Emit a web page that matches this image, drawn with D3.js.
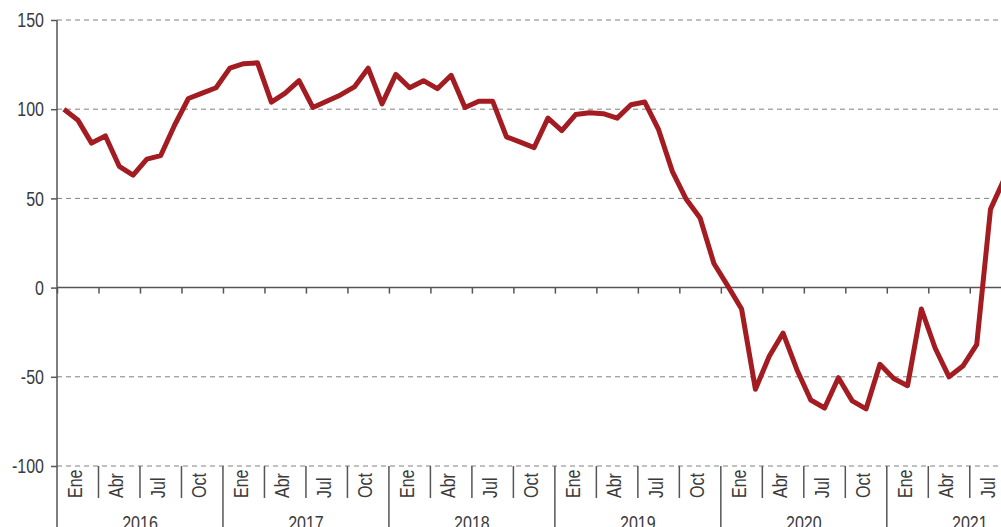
<html>
<head>
<meta charset="utf-8">
<script src="https://cdn.jsdelivr.net/npm/d3@7"></script>
<style>
  body { margin: 0; background: #fff; }
  svg text { font-family: "Liberation Sans", Arial, sans-serif; fill: #3a3a3a; font-size: 20px; }
  .line { fill: none; stroke: #a31c22; stroke-width: 5px; stroke-linejoin: round; }
  .grid { stroke: #808080; stroke-width: 1px; stroke-dasharray: 5,4; }
  .ax { stroke: #555; stroke-width: 1.5px; }
</style>
</head>
<body>
<script>
// datos mensuales, enero 2016 - septiembre 2021
var years = [2016, 2017, 2018, 2019, 2020, 2021];
var quarterLabels = ["Ene", "Abr", "Jul", "Oct"];
var yTicks = [150, 100, 50, 0, -50, -100];
var values = [
  100, 94, 81, 85, 68, 63, 72, 74, 91, 106, 109, 112,
  123, 125.5, 126, 104, 109, 116, 101, 104.5, 108, 112.5, 123, 103,
  119.5, 112, 116, 111.5, 119, 101, 104.5, 104.5, 84.5, 81.5, 78.5, 95,
  88, 97, 98, 97.5, 95, 102.5, 104, 88.5, 65, 49.5, 39, 13.5,
  1, -12, -57, -38.5, -25.5, -46, -63, -67.5, -50.5, -63.5, -68, -43,
  -51, -55, -12, -34, -50, -44, -32, 44, 61
];

var W = 1001, H = 527;
var left = 57, monthW = 13.83;
var narrow = 0.8; // letra condensada

var x = d3.scaleLinear().domain([0, 72]).range([left, left + 72 * monthW]);
var y = d3.scaleLinear().domain([-100, 150]).range([466, 20]);

var svg = d3.select("body").append("svg")
  .attr("width", W).attr("height", H);

// lineas de rejilla
svg.append("g").selectAll("line")
  .data(yTicks.filter(function(d){ return d !== 0; }))
  .enter().append("line")
  .attr("class", "grid")
  .attr("x1", left).attr("x2", W)
  .attr("y1", function(d){ return y(d); })
  .attr("y2", function(d){ return y(d); });

// eje y
var gy = svg.append("g").attr("transform", "translate(" + left + ",0)")
  .call(d3.axisLeft(y).tickValues(yTicks).tickSize(6).tickFormat(""));
gy.select(".domain").remove();
gy.selectAll(".tick line").attr("class", "ax");
svg.append("g").selectAll("text")
  .data(yTicks)
  .enter().append("text")
  .attr("transform", function(d){ return "translate(" + (left - 13) + "," + y(d) + ") scale(" + narrow + ",1)"; })
  .attr("text-anchor", "end")
  .attr("dy", "0.36em")
  .text(function(d){ return d; });
svg.append("line").attr("class", "ax")
  .attr("x1", left).attr("x2", left).attr("y1", y(150)).attr("y2", H);

// eje cero con marcas trimestrales
var quarters = d3.range(0, 73, 3);
var gx = svg.append("g").attr("transform", "translate(0," + y(0) + ")")
  .call(d3.axisBottom(x).tickValues(quarters).tickSize(6).tickFormat(""));
gx.select(".domain").remove();
gx.selectAll(".tick line").attr("class", "ax");
svg.append("line").attr("class", "ax")
  .attr("x1", left).attr("x2", W).attr("y1", y(0)).attr("y2", y(0));

// separadores inferiores
svg.append("g").selectAll("line")
  .data(quarters.filter(function(d){ return d > 0; }))
  .enter().append("line")
  .attr("class", "ax")
  .attr("x1", function(d){ return x(d); })
  .attr("x2", function(d){ return x(d); })
  .attr("y1", y(-100))
  .attr("y2", function(d){ return d % 12 === 0 ? H : 498; });

// etiquetas de mes
var qData = d3.range(0, 72, 3);
svg.append("g").selectAll("text")
  .data(qData)
  .enter().append("text")
  .attr("transform", function(d){ return "translate(" + (x(d + 1.5) - 3) + ",498) rotate(-90) scale(" + narrow + ",1)"; })
  .attr("dy", "0.36em")
  .text(function(d){ return quarterLabels[(d % 12) / 3]; });

// etiquetas de año
svg.append("g").selectAll("text")
  .data(years)
  .enter().append("text")
  .attr("transform", function(d, i){ return "translate(" + x(i * 12 + 6) + ",530) scale(" + narrow + ",1)"; })
  .attr("text-anchor", "middle")
  .text(function(d){ return d; });

// serie
var valueline = d3.line()
  .x(function(d, i){ return x(i + 0.5); })
  .y(function(d){ return y(d); });

svg.append("path")
  .datum(values)
  .attr("class", "line")
  .attr("d", valueline);
</script>
</body>
</html>
